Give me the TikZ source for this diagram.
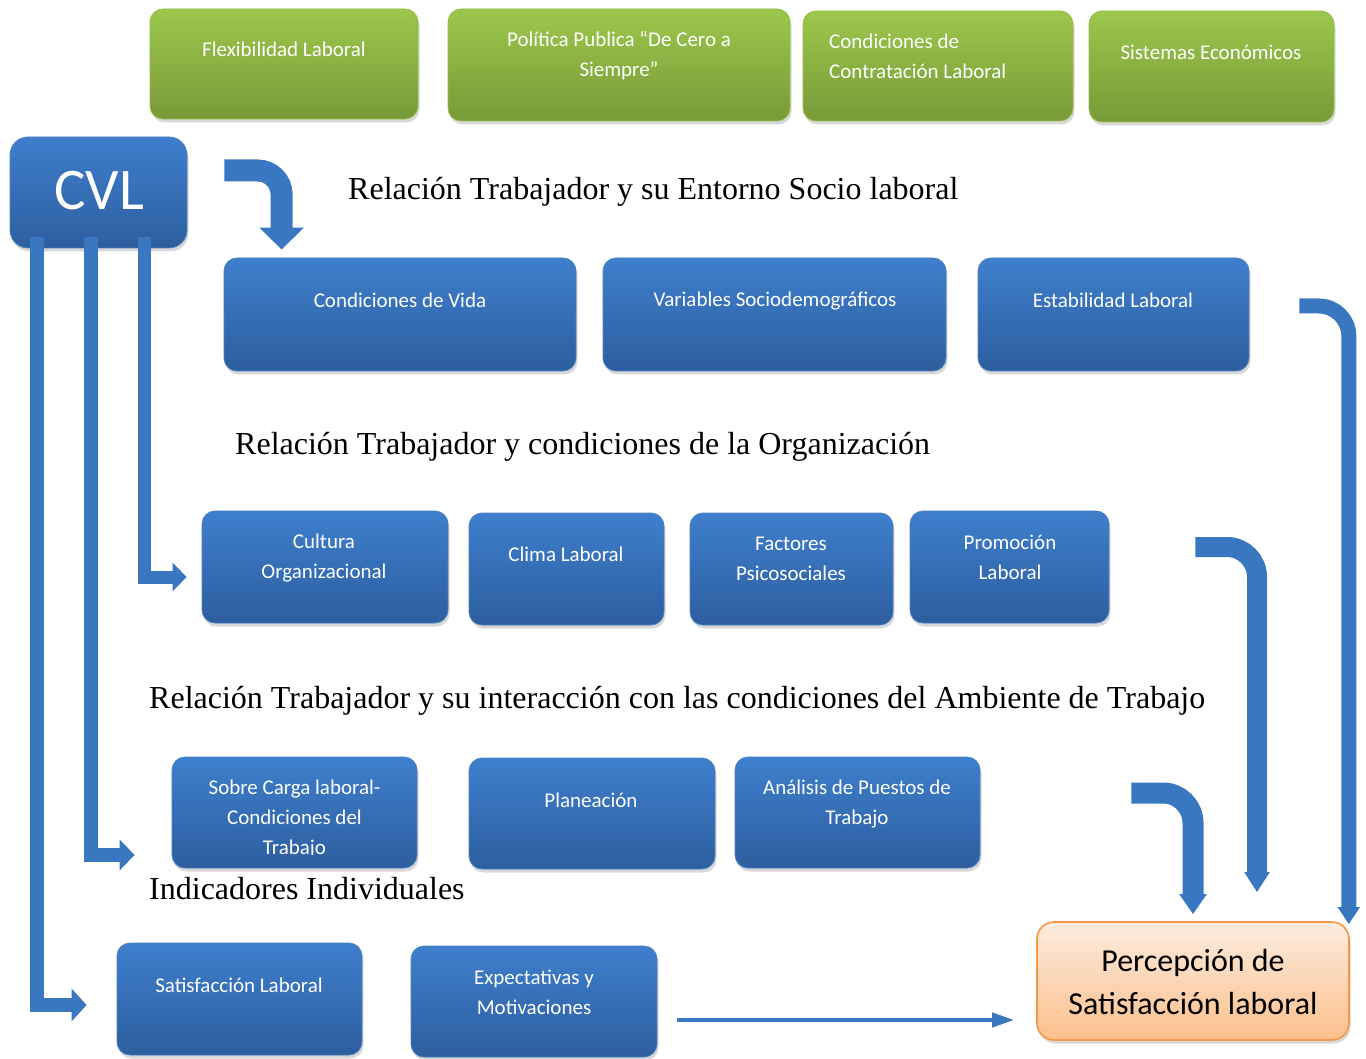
\documentclass[tikz,border=0pt]{standalone}
\usepackage{fontspec}
\setmainfont{Liberation Serif}
\newfontfamily\calfont{Carlito}
\usetikzlibrary{shadows,arrows.meta,calc}
\definecolor{bA}{HTML}{3E7FCC}
\definecolor{bB}{HTML}{2D5E9F}
\definecolor{bD}{HTML}{4A7FC0}
\definecolor{gA}{HTML}{9DC74C}
\definecolor{gB}{HTML}{779A38}
\definecolor{gD}{HTML}{93BD47}
\definecolor{oA}{HTML}{FDECDF}
\definecolor{oB}{HTML}{FBBF8C}
\definecolor{oD}{HTML}{F79646}
\definecolor{ac}{HTML}{3A77C1}
\tikzset{
  box/.style={rounded corners=13pt, line width=0.8pt, inner sep=0pt,
    drop shadow={opacity=0.3, shadow xshift=1.5pt, shadow yshift=-3.5pt}},
  bluebox/.style={box, draw=bD, top color=bA, bottom color=bB},
  greenbox/.style={box, draw=gD, top color=gA, bottom color=gB},
  orangebox/.style={box, draw=oD, line width=1.6pt, top color=oA, bottom color=oB},
  wtxt/.style={text=white, font=\calfont\fontsize{21}{30}\selectfont, align=center, inner sep=0pt},
  heading/.style={font=\fontsize{32}{36}\selectfont, anchor=base west, inner sep=0pt},
  fat/.style={draw=ac, line join=miter},
}
\begin{document}
\begin{tikzpicture}[x=1pt,y=-1pt]
\useasboundingbox[fill=white] (0,0) rectangle (1366,1059);

% green boxes
\node[greenbox, minimum width=268pt, minimum height=110pt] (g1) at (284,64) {};
\node[wtxt] (g1t) at (284,49) {Flexibilidad Laboral};
\node[greenbox, minimum width=342pt, minimum height=112pt] (g2) at (619,65) {};
\node[wtxt] (g2t) at (619,56) {Política Publica “De Cero a\\Siempre”};
\node[greenbox, minimum width=270pt, minimum height=110pt] (g3) at (938,66) {};
\node[wtxt, align=left, anchor=west] (g3t) at (829,56) {Condiciones de\\Contratación Laboral};
\node[greenbox, minimum width=245pt, minimum height=111pt] (g4) at (1211.5,66.5) {};
\node[wtxt] (g4t) at (1211,52) {Sistemas Económicos};

% CVL
\node[box, draw=bD, top color=bA, bottom color=bB, rounded corners=18pt, minimum width=177pt, minimum height=111pt] (cvl) at (98.5,192.5) {};
\node[text=white, font=\calfont\fontsize{59}{62}\selectfont, inner sep=0pt] (cvlt) at (99,191) {CVL};

% headings
\node[heading] (h1) at (348,200) {Relación Trabajador y su Entorno Socio laboral};
\node[heading] (h2) at (235,454) {Relación Trabajador y condiciones de la Organización};
\node[heading] (h3) at (149,708) {Relación Trabajador y su interacción con las condiciones del Ambiente de Trabajo};
\node[heading] (h4) at (149,899) {Indicadores Individuales};

% row 1
\node[bluebox, minimum width=352pt, minimum height=113pt] (cv) at (400,314.5) {};
\node[wtxt] (cvt) at (400,300) {Condiciones de Vida};
\node[bluebox, minimum width=343pt, minimum height=113pt] (vs) at (774.5,314.5) {};
\node[wtxt] (vst) at (775,301.5) {Variables Sociodemográficos};
\node[bluebox, minimum width=271pt, minimum height=113pt] (es) at (1113.5,314.5) {};
\node[wtxt] (est) at (1113,300) {Estabilidad Laboral};

% row 2
\node[bluebox, minimum width=246pt, minimum height=112pt] (cul) at (325,567) {};
\node[wtxt] (cult) at (324,558) {Cultura\\Organizacional};
\node[bluebox, minimum width=195pt, minimum height=112pt] (cli) at (566.5,569) {};
\node[wtxt] (clit) at (566,554) {Clima Laboral};
\node[bluebox, minimum width=203pt, minimum height=112pt] (fac) at (791.5,569) {};
\node[wtxt] (fact) at (791,559) {Factores\\Psicosociales};
\node[bluebox, minimum width=199pt, minimum height=112pt] (pro) at (1009.5,567) {};
\node[wtxt] (prot) at (1010,557) {Promoción\\Laboral};

% row 3
\node[bluebox, minimum width=245pt, minimum height=111pt] (sob) at (294.5,812.5) {};
\begin{scope}
  \clip (172,757) rectangle (417,854);
  \node[wtxt] (sobt) at (294.5,819) {Sobre Carga laboral-\\Condiciones del\\Trabajo};
\end{scope}
\node[bluebox, minimum width=246pt, minimum height=111pt] (pla) at (592,813.5) {};
\node[wtxt] (plat) at (591,800) {Planeación};
\node[bluebox, minimum width=245pt, minimum height=111pt] (ana) at (857.5,812.5) {};
\node[wtxt] (anat) at (857,804) {Análisis de Puestos de\\Trabajo};

% row 4
\node[bluebox, minimum width=245pt, minimum height=112pt] (sat) at (239.5,999) {};
\node[wtxt] (satt) at (239,985) {Satisfacción Laboral};
\node[bluebox, minimum width=246pt, minimum height=111pt] (exp) at (534,1001.5) {};
\node[wtxt] (expt) at (534,992) {Expectativas y\\Motivaciones};

% result
\node[orangebox, rounded corners=17pt, minimum width=312pt, minimum height=118pt] (perc) at (1193,981) {};
\node[font=\calfont\fontsize{32}{43}\selectfont, align=center, inner sep=0pt] (perct) at (1193,982) {Percepción de\\Satisfacción laboral};

% connectors
\draw[fat, line width=22pt, rounded corners=24pt, -{Triangle[width=43pt,length=22pt]}]
  ($(cvl.east)+(37,-22)$) -| ($(cv.north west)+(58,-8)$);

\draw[fat, line width=14pt, -{Triangle[width=32pt,length=15pt]}]
  ($(cvl.south west)+(27,-11)$) |- ($(sat.west)+(-30,6)$);
\draw[fat, line width=14pt, -{Triangle[width=30pt,length=15pt]}]
  ($(cvl.south west)+(81,-11)$) |- ($(sob.west)+(-37,42.5)$);
\draw[fat, line width=13pt, -{Triangle[width=28pt,length=14pt]}]
  ($(cvl.south west)+(135,-11)$) |- ($(cul.west)+(-15,10)$);

\draw[fat, line width=15pt, rounded corners=30pt, -{Triangle[width=21pt,length=17pt]}]
  ($(es.east)+(50,-8.5)$) -| ($(perc.north east)+(-1,3)$);
\draw[fat, line width=20pt, rounded corners=30pt, -{Triangle[width=24pt,length=20pt]}]
  ($(pro.east)+(86,-20)$) -| ($(perc.north)+(64,-29)$);
\draw[fat, line width=21pt, rounded corners=30pt, -{Triangle[width=26pt,length=20pt]}]
  ($(ana.east)+(151,-19.5)$) -| ($(perc.north)+(0,-7)$);

\draw[draw=ac, line width=4pt, -{Triangle[width=14pt,length=22pt]}]
  ($(exp.east)+(20,18.5)$) -- ($(perc.west)+(-22,39)$);
\end{tikzpicture}
\end{document}
